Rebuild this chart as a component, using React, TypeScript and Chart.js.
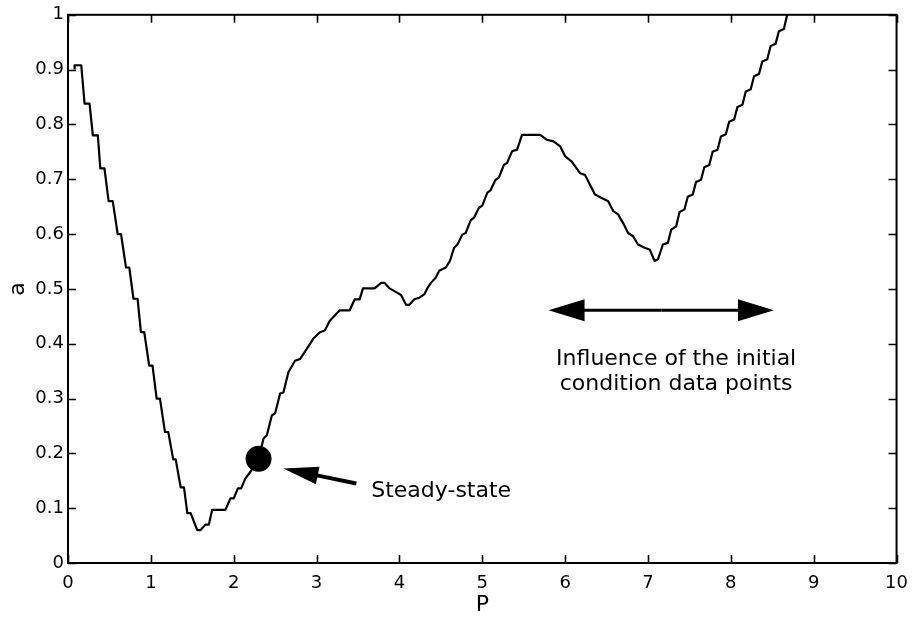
import React, { useEffect, useRef } from 'react';
import { Chart, registerables } from 'chart.js';

Chart.register(...registerables);

// ---- data ----
const P_VALUES = [
  0.08, 0.08, 0.16, 0.20, 0.26, 0.30, 0.36, 0.39, 0.44, 0.49,
  0.54, 0.60, 0.64, 0.70, 0.74, 0.79, 0.84, 0.88, 0.92, 0.98,
  1.02, 1.07, 1.11, 1.17, 1.21, 1.27, 1.30, 1.36, 1.40, 1.44,
  1.48, 1.56, 1.60, 1.66, 1.70, 1.74, 1.90, 1.96, 2.00, 2.05,
  2.09, 2.14, 2.20, 2.30, 2.36, 2.40, 2.46, 2.50, 2.56, 2.60,
  2.66, 2.74, 2.80, 2.88, 2.96, 3.04, 3.10, 3.16, 3.28, 3.40,
  3.46, 3.52, 3.56, 3.70, 3.78, 3.82, 3.88, 3.94, 4.02, 4.08,
  4.12, 4.18, 4.24, 4.30, 4.34, 4.38, 4.44, 4.48, 4.56, 4.61,
  4.66, 4.70, 4.76, 4.80, 4.86, 4.90, 4.96, 5.00, 5.06, 5.10,
  5.16, 5.20, 5.26, 5.30, 5.36, 5.42, 5.48, 5.70, 5.78, 5.86,
  5.94, 6.00, 6.08, 6.18, 6.24, 6.30, 6.36, 6.44, 6.52, 6.58,
  6.64, 6.70, 6.76, 6.82, 6.88, 6.96, 7.02, 7.08, 7.12, 7.18,
  7.24, 7.28, 7.34, 7.38, 7.44, 7.48, 7.54, 7.58, 7.64, 7.68,
  7.74, 7.78, 7.84, 7.88, 7.94, 7.98, 8.04, 8.08, 8.14, 8.18,
  8.24, 8.28, 8.34, 8.38, 8.44, 8.48, 8.54, 8.58, 8.64, 8.68,
];

const A_VALUES = [
  0.900, 0.908, 0.908, 0.838, 0.838, 0.780, 0.780, 0.720, 0.720, 0.660,
  0.660, 0.600, 0.600, 0.539, 0.539, 0.482, 0.482, 0.421, 0.421, 0.360,
  0.360, 0.300, 0.300, 0.239, 0.239, 0.189, 0.189, 0.138, 0.138, 0.091,
  0.091, 0.060, 0.060, 0.070, 0.070, 0.097, 0.097, 0.118, 0.118, 0.136,
  0.136, 0.154, 0.166, 0.190, 0.227, 0.233, 0.269, 0.273, 0.309, 0.311,
  0.348, 0.369, 0.372, 0.390, 0.409, 0.421, 0.424, 0.442, 0.461, 0.461,
  0.481, 0.481, 0.501, 0.501, 0.511, 0.511, 0.501, 0.496, 0.489, 0.471,
  0.471, 0.481, 0.484, 0.490, 0.502, 0.511, 0.521, 0.533, 0.539, 0.551,
  0.575, 0.581, 0.599, 0.602, 0.625, 0.630, 0.648, 0.652, 0.675, 0.680,
  0.699, 0.703, 0.726, 0.730, 0.751, 0.754, 0.781, 0.781, 0.772, 0.769,
  0.760, 0.742, 0.732, 0.711, 0.708, 0.690, 0.672, 0.666, 0.660, 0.642,
  0.636, 0.620, 0.602, 0.596, 0.581, 0.575, 0.572, 0.551, 0.554, 0.581,
  0.584, 0.608, 0.614, 0.640, 0.645, 0.668, 0.672, 0.695, 0.699, 0.722,
  0.726, 0.750, 0.754, 0.778, 0.782, 0.805, 0.809, 0.832, 0.836, 0.860,
  0.864, 0.888, 0.892, 0.915, 0.919, 0.943, 0.947, 0.970, 0.974, 1.000,
];

const STEADY_P = [2.3];
const STEADY_A = [0.19];

const X_TICKS = [0, 1, 2, 3, 4, 5, 6, 7, 8, 9, 10];
const Y_TICKS = [0, 0.1, 0.2, 0.3, 0.4, 0.5, 0.6, 0.7, 0.8, 0.9, 1];

const X_TITLE = 'P';
const Y_TITLE = 'a';
const STEADY_LABEL = 'Steady-state';
const INFLUENCE_LABEL = ['Influence of the initial', 'condition data points'];

// annotation anchors (data units)
const INFLUENCE_ARROW_P = [5.8, 8.52];
const INFLUENCE_ARROW_A = 0.461;
const INFLUENCE_TEXT_P = 7.34;
const INFLUENCE_TEXT_A = [0.361, 0.315];
const STEADY_ARROW_TIP = [2.6, 0.1725];
const STEADY_ARROW_TAIL = [3.48, 0.145];
const STEADY_TEXT_POS = [3.66, 0.121];

const FONT = '"DejaVu Sans", "Liberation Sans", sans-serif';

function drawArrow(
  ctx: CanvasRenderingContext2D,
  tx: number, ty: number, hx: number, hy: number,
  headLen: number, headHalf: number, shaft: number
) {
  const ang = Math.atan2(hy - ty, hx - tx);
  const c = Math.cos(ang), s = Math.sin(ang);
  const bx = hx - headLen * c, by = hy - headLen * s;
  ctx.lineWidth = shaft;
  ctx.beginPath();
  ctx.moveTo(tx, ty);
  ctx.lineTo(bx + c * 2, by + s * 2);
  ctx.stroke();
  ctx.beginPath();
  ctx.moveTo(hx, hy);
  ctx.lineTo(bx + headHalf * s, by - headHalf * c);
  ctx.lineTo(bx - headHalf * s, by + headHalf * c);
  ctx.closePath();
  ctx.fill();
}

export default function App() {
  const ref = useRef<HTMLCanvasElement>(null);

  useEffect(() => {
    const canvas = ref.current;
    if (!canvas) return;

    const annotations = {
      id: 'annotations',
      afterDatasetsDraw(chart: any) {
        const { ctx, chartArea: ca, scales } = chart;
        const x = scales.x, y = scales.y;
        ctx.save();
        ctx.strokeStyle = '#000';
        ctx.fillStyle = '#000';
        ctx.lineCap = 'butt';

        // frame
        ctx.lineWidth = 2;
        ctx.strokeRect(ca.left, ca.top, ca.right - ca.left, ca.bottom - ca.top);

        // inward tick marks on all four sides
        ctx.lineWidth = 1.6;
        const tl = 8;
        ctx.beginPath();
        X_TICKS.forEach((v) => {
          const px = Math.round(x.getPixelForValue(v)) + 0.5;
          ctx.moveTo(px, ca.bottom); ctx.lineTo(px, ca.bottom - tl);
          ctx.moveTo(px, ca.top); ctx.lineTo(px, ca.top + tl);
        });
        Y_TICKS.forEach((v) => {
          const py = Math.round(y.getPixelForValue(v)) + 0.5;
          ctx.moveTo(ca.left, py); ctx.lineTo(ca.left + tl, py);
          ctx.moveTo(ca.right, py); ctx.lineTo(ca.right - tl, py);
        });
        ctx.stroke();

        // double arrow
        const ay = y.getPixelForValue(INFLUENCE_ARROW_A);
        const axL = x.getPixelForValue(INFLUENCE_ARROW_P[0]);
        const axR = x.getPixelForValue(INFLUENCE_ARROW_P[1]);
        const mid = (axL + axR) / 2;
        drawArrow(ctx, mid, ay, axL, ay, 36, 11, 3);
        drawArrow(ctx, mid, ay, axR, ay, 36, 11, 3);

        // steady-state arrow
        drawArrow(
          ctx,
          x.getPixelForValue(STEADY_ARROW_TAIL[0]), y.getPixelForValue(STEADY_ARROW_TAIL[1]),
          x.getPixelForValue(STEADY_ARROW_TIP[0]), y.getPixelForValue(STEADY_ARROW_TIP[1]),
          35, 9, 4
        );

        // texts
        ctx.font = `22px ${FONT}`;
        ctx.textBaseline = 'alphabetic';
        ctx.textAlign = 'left';
        ctx.fillText(STEADY_LABEL, x.getPixelForValue(STEADY_TEXT_POS[0]), y.getPixelForValue(STEADY_TEXT_POS[1]));
        ctx.textAlign = 'center';
        INFLUENCE_LABEL.forEach((line, i) => {
          ctx.fillText(line, x.getPixelForValue(INFLUENCE_TEXT_P), y.getPixelForValue(INFLUENCE_TEXT_A[i]));
        });
        ctx.restore();
      },
    };

    const chart = new Chart(canvas, {
      type: 'line',
      data: {
        datasets: [
          {
            type: 'scatter' as any,
            label: 'Steady-state',
            data: STEADY_P.map((p, i) => ({ x: p, y: STEADY_A[i] })),
            pointRadius: 13,
            pointBackgroundColor: '#000',
            pointBorderColor: '#000',
            pointBorderWidth: 0,
            showLine: false,
          },
          {
            label: 'a',
            data: P_VALUES.map((p, i) => ({ x: p, y: A_VALUES[i] })),
            borderColor: '#000',
            borderWidth: 2.2,
            pointRadius: 0,
            tension: 0,
            fill: false,
            borderJoinStyle: 'round',
          },
        ],
      },
      options: {
        responsive: true,
        maintainAspectRatio: false,
        animation: false,
        layout: { padding: { top: 13, right: 16, left: 0, bottom: 0 } },
        plugins: { legend: { display: false }, tooltip: { enabled: false } },
        scales: {
          x: {
            type: 'linear',
            min: 0,
            max: 10,
            afterBuildTicks: (s: any) => { s.ticks = X_TICKS.map((v) => ({ value: v })); },
            afterFit: (s: any) => { s.height = 59; },
            grid: { display: false, drawTicks: false },
            border: { display: false },
            ticks: {
              font: { family: FONT, size: 18 },
              color: '#000',
              padding: 10,
              maxRotation: 0,
              autoSkip: false,
              callback: (v: any) => String(v),
            },
            title: {
              display: true,
              text: X_TITLE,
              font: { family: FONT, size: 22 },
              color: '#000',
              padding: { top: 0, bottom: 4 },
            },
          },
          y: {
            type: 'linear',
            min: 0,
            max: 1,
            afterBuildTicks: (s: any) => { s.ticks = Y_TICKS.map((v) => ({ value: v })); },
            afterFit: (s: any) => { s.width = 68; },
            grid: { display: false, drawTicks: false },
            border: { display: false },
            ticks: {
              font: { family: FONT, size: 18 },
              color: '#000',
              padding: 4,
              autoSkip: false,
              callback: (v: any) => String(Math.round(Number(v) * 10) / 10),
            },
            title: {
              display: true,
              text: Y_TITLE,
              font: { family: FONT, size: 22 },
              color: '#000',
              padding: { top: 5, bottom: 0 },
            },
          },
        },
      },
      plugins: [annotations],
    });

    return () => chart.destroy();
  }, []);

  return (
    <div style={{ position: 'fixed', left: 0, top: 0, width: 918, height: 622, background: '#fff' }}>
      <canvas ref={ref} />
    </div>
  );
}
